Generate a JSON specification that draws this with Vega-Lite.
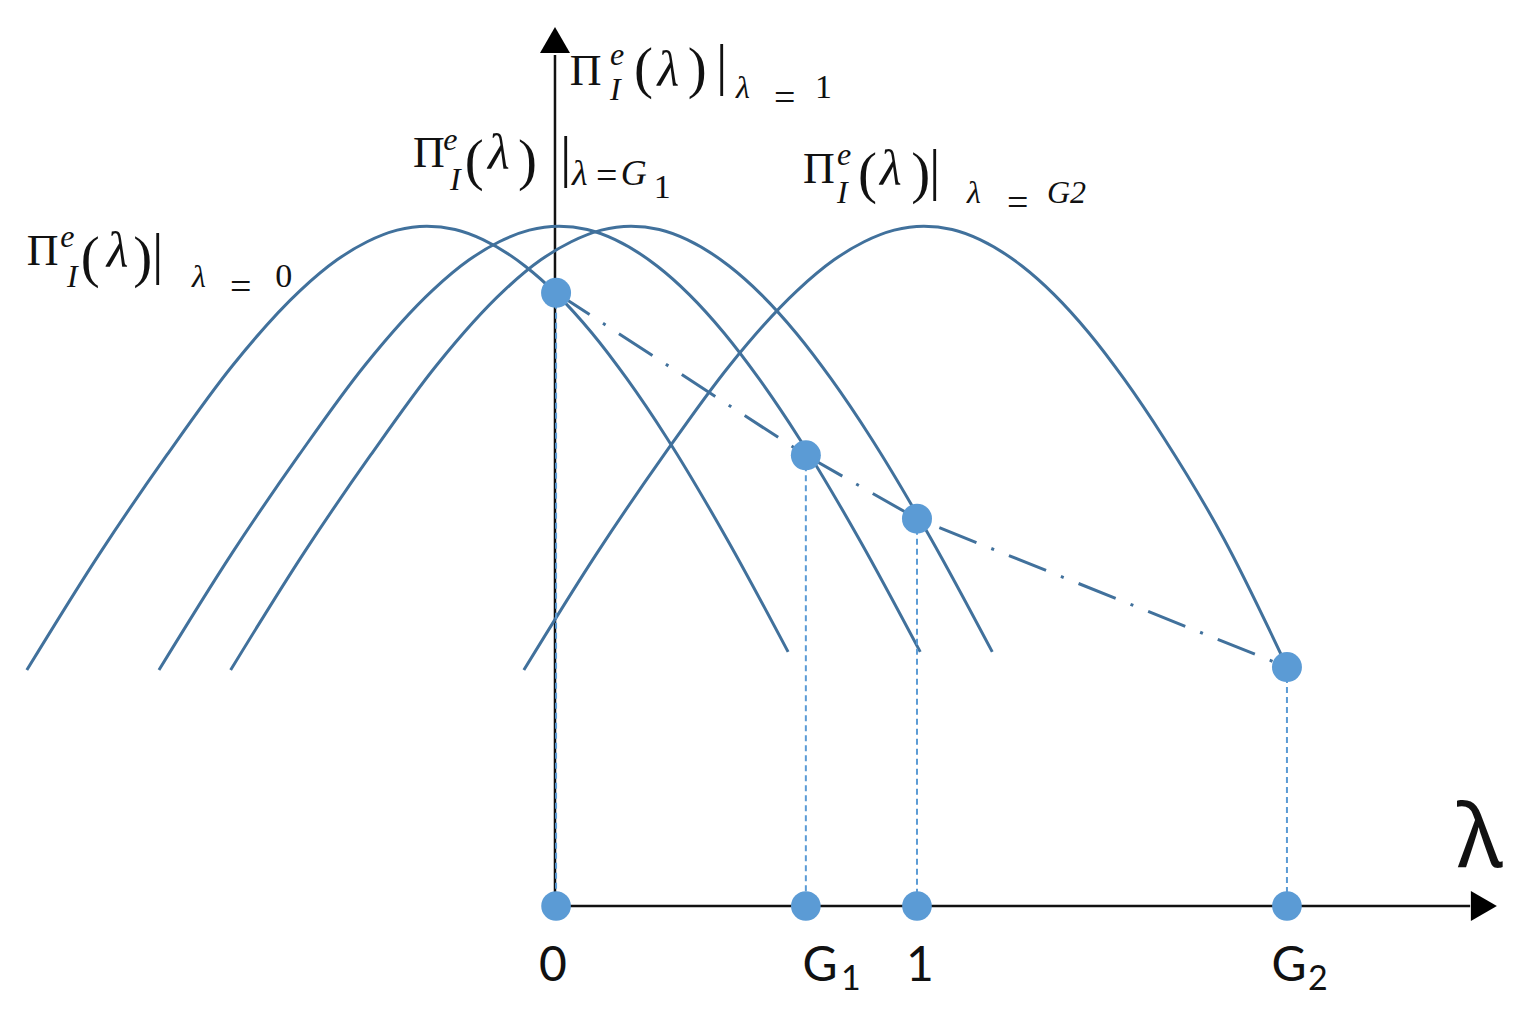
{
  "$schema": "https://vega.github.io/schema/vega-lite/v6.json",
  "width": 1522,
  "height": 1014,
  "autosize": {"type": "fit", "contains": "padding"},
  "padding": 0,
  "background": "white",
  "config": {"view": {"stroke": null}},
  "datasets": {
    "axes": [
      {"x": 0, "y": 0, "x2": 0, "y2": 2.351},
      {"x": 0, "y": 0, "x2": 2.528, "y2": 0}
    ],
    "arrows": [
      {"x": 0, "y": 2.392, "dir": "up"},
      {"x": 2.566, "y": 0, "dir": "right"}
    ],
    "curves": [
      {"c": "0", "x": -1.459, "y": 0.652}, {"c": "0", "x": -1.257, "y": 0.975}, {"c": "0", "x": -1.072, "y": 1.246}, {"c": "0", "x": -0.890, "y": 1.494},
      {"c": "0", "x": -0.704, "y": 1.700}, {"c": "0", "x": -0.602, "y": 1.785}, {"c": "0", "x": -0.519, "y": 1.835}, {"c": "0", "x": -0.436, "y": 1.867},
      {"c": "0", "x": -0.354, "y": 1.878}, {"c": "0", "x": -0.276, "y": 1.869}, {"c": "0", "x": -0.199, "y": 1.841}, {"c": "0", "x": -0.083, "y": 1.768},
      {"c": "0", "x": 0.006, "y": 1.689}, {"c": "0", "x": 0.102, "y": 1.583}, {"c": "0", "x": 0.199, "y": 1.456}, {"c": "0", "x": 0.309, "y": 1.293},
      {"c": "0", "x": 0.475, "y": 1.014}, {"c": "0", "x": 0.644, "y": 0.702},
      {"c": "G1", "x": -1.094, "y": 0.652}, {"c": "G1", "x": -0.892, "y": 0.975}, {"c": "G1", "x": -0.707, "y": 1.246}, {"c": "G1", "x": -0.525, "y": 1.494},
      {"c": "G1", "x": -0.339, "y": 1.700}, {"c": "G1", "x": -0.237, "y": 1.785}, {"c": "G1", "x": -0.154, "y": 1.835}, {"c": "G1", "x": -0.071, "y": 1.867},
      {"c": "G1", "x": 0.011, "y": 1.878}, {"c": "G1", "x": 0.089, "y": 1.869}, {"c": "G1", "x": 0.166, "y": 1.841}, {"c": "G1", "x": 0.282, "y": 1.768},
      {"c": "G1", "x": 0.371, "y": 1.689}, {"c": "G1", "x": 0.467, "y": 1.583}, {"c": "G1", "x": 0.564, "y": 1.456}, {"c": "G1", "x": 0.674, "y": 1.293},
      {"c": "G1", "x": 0.840, "y": 1.014}, {"c": "G1", "x": 1.009, "y": 0.702},
      {"c": "1", "x": -0.896, "y": 0.652}, {"c": "1", "x": -0.694, "y": 0.975}, {"c": "1", "x": -0.509, "y": 1.246}, {"c": "1", "x": -0.327, "y": 1.494},
      {"c": "1", "x": -0.141, "y": 1.700}, {"c": "1", "x": -0.039, "y": 1.785}, {"c": "1", "x": 0.045, "y": 1.835}, {"c": "1", "x": 0.128, "y": 1.867},
      {"c": "1", "x": 0.210, "y": 1.878}, {"c": "1", "x": 0.288, "y": 1.869}, {"c": "1", "x": 0.365, "y": 1.841}, {"c": "1", "x": 0.481, "y": 1.768},
      {"c": "1", "x": 0.570, "y": 1.689}, {"c": "1", "x": 0.666, "y": 1.583}, {"c": "1", "x": 0.763, "y": 1.456}, {"c": "1", "x": 0.873, "y": 1.293},
      {"c": "1", "x": 1.039, "y": 1.014}, {"c": "1", "x": 1.208, "y": 0.702},
      {"c": "G2", "x": -0.086, "y": 0.652}, {"c": "G2", "x": 0.116, "y": 0.975}, {"c": "G2", "x": 0.301, "y": 1.246}, {"c": "G2", "x": 0.483, "y": 1.494},
      {"c": "G2", "x": 0.669, "y": 1.700}, {"c": "G2", "x": 0.771, "y": 1.785}, {"c": "G2", "x": 0.854, "y": 1.835}, {"c": "G2", "x": 0.937, "y": 1.867},
      {"c": "G2", "x": 1.019, "y": 1.878}, {"c": "G2", "x": 1.097, "y": 1.869}, {"c": "G2", "x": 1.174, "y": 1.841}, {"c": "G2", "x": 1.290, "y": 1.768},
      {"c": "G2", "x": 1.379, "y": 1.689}, {"c": "G2", "x": 1.475, "y": 1.583}, {"c": "G2", "x": 1.572, "y": 1.456}, {"c": "G2", "x": 1.682, "y": 1.293},
      {"c": "G2", "x": 1.848, "y": 1.014}, {"c": "G2", "x": 2.020, "y": 0.665}
    ],
    "pts": [
      {"k": "0", "x": 0.003, "y": 1.694},
      {"k": "G1", "x": 0.693, "y": 1.245},
      {"k": "1", "x": 1.0, "y": 1.070},
      {"k": "G2", "x": 2.022, "y": 0.660}
    ],
    "math": [
      {"x": -1.459, "y": 1.771, "t": "Π", "p": "Pi"},
      {"x": -1.367, "y": 1.820, "t": "e", "p": "it"},
      {"x": -1.348, "y": 1.710, "t": "I", "p": "it"},
      {"x": -1.310, "y": 1.740, "t": "(", "p": "big"},
      {"x": -1.238, "y": 1.765, "t": "λ", "p": "lam"},
      {"x": -1.165, "y": 1.740, "t": ")", "p": "big"},
      {"x": -1.113, "y": 1.749, "t": "|", "p": "big"},
      {"x": -1.003, "y": 1.710, "t": "λ", "p": "it"},
      {"x": -0.898, "y": 1.677, "t": "=", "p": "eq"},
      {"x": -0.773, "y": 1.710, "t": "0", "p": "reg"},

      {"x": -0.392, "y": 2.041, "t": "Π", "p": "Pi"},
      {"x": -0.309, "y": 2.088, "t": "e", "p": "it"},
      {"x": -0.290, "y": 1.978, "t": "I", "p": "it"},
      {"x": -0.249, "y": 2.008, "t": "(", "p": "big"},
      {"x": -0.185, "y": 2.036, "t": "λ", "p": "lam"},
      {"x": -0.102, "y": 2.008, "t": ")", "p": "big"},
      {"x": 0.014, "y": 2.017, "t": "|", "p": "big"},
      {"x": 0.047, "y": 1.992, "t": "λ", "p": "itL"},
      {"x": 0.113, "y": 1.983, "t": "=", "p": "eq"},
      {"x": 0.182, "y": 1.992, "t": "G", "p": "itL"},
      {"x": 0.273, "y": 1.956, "t": "1", "p": "reg"},

      {"x": 0.041, "y": 2.268, "t": "Π", "p": "Pi"},
      {"x": 0.152, "y": 2.323, "t": "e", "p": "it"},
      {"x": 0.152, "y": 2.227, "t": "I", "p": "it"},
      {"x": 0.218, "y": 2.262, "t": "(", "p": "big"},
      {"x": 0.283, "y": 2.265, "t": "λ", "p": "lam"},
      {"x": 0.367, "y": 2.262, "t": ")", "p": "big"},
      {"x": 0.445, "y": 2.271, "t": "|", "p": "big"},
      {"x": 0.500, "y": 2.232, "t": "λ", "p": "it"},
      {"x": 0.605, "y": 2.198, "t": "=", "p": "eq"},
      {"x": 0.718, "y": 2.232, "t": "1", "p": "reg"},

      {"x": 0.685, "y": 1.997, "t": "Π", "p": "Pi"},
      {"x": 0.779, "y": 2.047, "t": "e", "p": "it"},
      {"x": 0.779, "y": 1.942, "t": "I", "p": "it"},
      {"x": 0.837, "y": 1.972, "t": "(", "p": "big"},
      {"x": 0.898, "y": 1.992, "t": "λ", "p": "lam"},
      {"x": 0.984, "y": 1.972, "t": ")", "p": "big"},
      {"x": 1.033, "y": 1.981, "t": "|", "p": "big"},
      {"x": 1.138, "y": 1.942, "t": "λ", "p": "it"},
      {"x": 1.249, "y": 1.908, "t": "=", "p": "eq"},
      {"x": 1.359, "y": 1.942, "t": "G2", "p": "it"}
    ],
    "ticks": [
      {"x": -0.006, "y": -0.207, "t": "0", "p": "main"},
      {"x": 0.732, "y": -0.207, "t": "G", "p": "main"},
      {"x": 1.008, "y": -0.207, "t": "1", "p": "main"},
      {"x": 2.028, "y": -0.207, "t": "G", "p": "main"},
      {"x": 0.790, "y": -0.232, "t": "1", "p": "sub"},
      {"x": 2.080, "y": -0.232, "t": "2", "p": "sub"}
    ],
    "axislabel": [
      {"x": 2.555, "y": 0.108, "t": "λ"}
    ]
  },
  "encoding": {
    "x": {"field": "x", "type": "quantitative", "scale": {"domain": [-1.5331, 2.6713], "nice": false, "zero": false}, "axis": null},
    "y": {"field": "y", "type": "quantitative", "scale": {"domain": [-0.2983, 2.5028], "nice": false, "zero": false}, "axis": null}
  },
  "layer": [
    {
      "data": {"name": "axes"},
      "mark": {"type": "rule", "color": "#111111", "strokeWidth": 2.5},
      "encoding": {"x2": {"field": "x2"}, "y2": {"field": "y2"}}
    },
    {
      "data": {"name": "arrows"},
      "mark": {"type": "point", "filled": true, "color": "#000000", "opacity": 1, "size": 900},
      "encoding": {"shape": {"field": "dir", "type": "nominal", "scale": {"domain": ["up", "right"], "range": ["triangle-up", "triangle-right"]}, "legend": null}}
    },
    {
      "data": {"name": "curves"},
      "mark": {"type": "line", "color": "#41719c", "strokeWidth": 3, "interpolate": "monotone"},
      "encoding": {"detail": {"field": "c", "type": "nominal"}}
    },
    {
      "data": {"name": "pts"},
      "mark": {"type": "rule", "color": "#5b9bd5", "strokeWidth": 2, "strokeDash": [6, 4]},
      "encoding": {"y2": {"datum": 0}}
    },
    {
      "data": {"name": "pts"},
      "mark": {"type": "line", "color": "#41719c", "strokeWidth": 3, "strokeDash": [40, 16, 3, 16]},
      "encoding": {}
    },
    {
      "data": {"name": "pts"},
      "mark": {"type": "point", "filled": true, "color": "#5b9bd5", "opacity": 1, "size": 900, "shape": "circle"},
      "encoding": {}
    },
    {
      "data": {"name": "pts"},
      "mark": {"type": "point", "filled": true, "color": "#5b9bd5", "opacity": 1, "size": 880, "shape": "circle"},
      "encoding": {"y": {"datum": 0}}
    },
    {
      "data": {"name": "math"},
      "transform": [{"filter": "datum.p == 'Pi'"}],
      "mark": {"type": "text", "font": "Liberation Serif", "fontSize": 44, "align": "left", "baseline": "alphabetic", "color": "#111111"},
      "encoding": {"text": {"field": "t"}}
    },
    {
      "data": {"name": "math"},
      "transform": [{"filter": "datum.p == 'it'"}],
      "mark": {"type": "text", "font": "Liberation Serif", "fontSize": 32, "fontStyle": "italic", "align": "left", "baseline": "alphabetic", "color": "#111111"},
      "encoding": {"text": {"field": "t"}}
    },
    {
      "data": {"name": "math"},
      "transform": [{"filter": "datum.p == 'itL'"}],
      "mark": {"type": "text", "font": "Liberation Serif", "fontSize": 36, "fontStyle": "italic", "align": "left", "baseline": "alphabetic", "color": "#111111"},
      "encoding": {"text": {"field": "t"}}
    },
    {
      "data": {"name": "math"},
      "transform": [{"filter": "datum.p == 'big'"}],
      "mark": {"type": "text", "font": "Liberation Serif", "fontSize": 57, "align": "left", "baseline": "alphabetic", "color": "#111111"},
      "encoding": {"text": {"field": "t"}}
    },
    {
      "data": {"name": "math"},
      "transform": [{"filter": "datum.p == 'lam'"}],
      "mark": {"type": "text", "font": "Liberation Serif", "fontSize": 50, "fontStyle": "italic", "align": "left", "baseline": "alphabetic", "color": "#111111"},
      "encoding": {"text": {"field": "t"}}
    },
    {
      "data": {"name": "math"},
      "transform": [{"filter": "datum.p == 'reg'"}],
      "mark": {"type": "text", "font": "Liberation Serif", "fontSize": 34, "align": "left", "baseline": "alphabetic", "color": "#111111"},
      "encoding": {"text": {"field": "t"}}
    },
    {
      "data": {"name": "math"},
      "transform": [{"filter": "datum.p == 'eq'"}],
      "mark": {"type": "text", "font": "Liberation Serif", "fontSize": 38, "align": "left", "baseline": "alphabetic", "color": "#111111"},
      "encoding": {"text": {"field": "t"}}
    },
    {
      "data": {"name": "ticks"},
      "transform": [{"filter": "datum.p == 'main'"}],
      "mark": {"type": "text", "font": "Lato", "fontSize": 48, "align": "center", "baseline": "alphabetic", "color": "#111111"},
      "encoding": {"text": {"field": "t"}}
    },
    {
      "data": {"name": "ticks"},
      "transform": [{"filter": "datum.p == 'sub'"}],
      "mark": {"type": "text", "font": "Lato", "fontSize": 34, "align": "left", "baseline": "alphabetic", "color": "#111111"},
      "encoding": {"text": {"field": "t"}}
    },
    {
      "data": {"name": "axislabel"},
      "mark": {"type": "text", "font": "Noto Sans", "fontSize": 88, "align": "center", "baseline": "alphabetic", "color": "#111111"},
      "encoding": {"text": {"field": "t"}}
    }
  ]
}
